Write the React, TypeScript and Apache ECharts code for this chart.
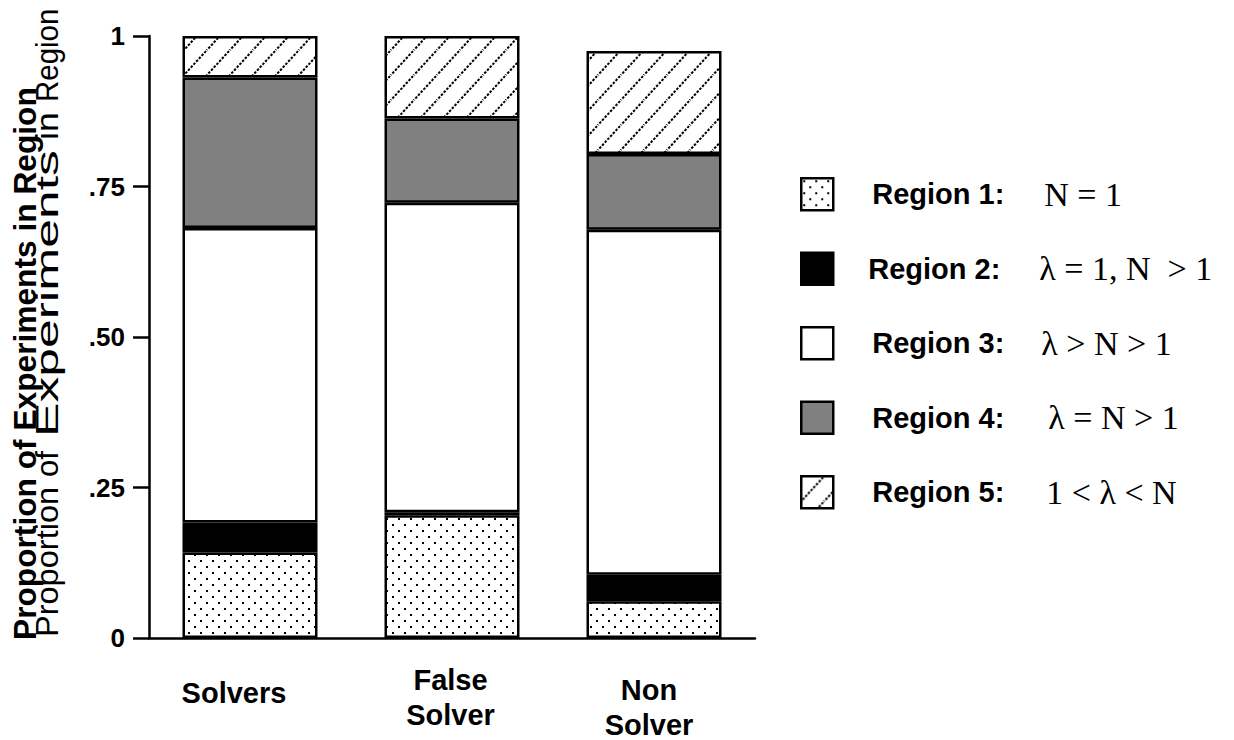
import React, { useEffect, useRef } from 'react';
import * as echarts from 'echarts';

// Subject groups along the x axis
const groups = ['Solvers', 'False\nSolver', 'Non\nSolver'];

// Share of experiments falling in each region, per group (stacked bottom to top)
const region1 = [0.142, 0.204, 0.061];
const region2 = [0.05, 0.005, 0.044];
const region3 = [0.489, 0.514, 0.573];
const region4 = [0.25, 0.14, 0.126];
const region5 = [0.069, 0.137, 0.171];

const regionNames = ['Region 1:', 'Region 2:', 'Region 3:', 'Region 4:', 'Region 5:'];
const regionRules = ['N = 1', 'λ = 1, N  > 1', 'λ > N > 1', 'λ = N > 1', '1 < λ < N'];

const yTicks = [0, 0.25, 0.5, 0.75, 1];
const yTickLabels = ['0', '.25', '.50', '.75', '1'];

const yTitle = 'Proportion of Experiments in Region';
const yTitleWords = ['Proportion', 'of', 'Experiments', 'in', 'Region'];

const SANS = '"Liberation Sans", Arial, Helvetica, sans-serif';
const SERIF = '"Liberation Serif", "Times New Roman", serif';

function dotPattern() {
  const w = 12;
  const h = 12;
  const c = document.createElement('canvas');
  c.width = w;
  c.height = h;
  const g = c.getContext('2d')!;
  g.fillStyle = '#ffffff';
  g.fillRect(0, 0, w, h);
  g.fillStyle = '#000000';
  g.fillRect(2, 2, 2, 2);
  g.fillRect(8, 8, 2, 2);
  return { image: c, repeat: 'repeat', imageWidth: w, imageHeight: h };
}

function hatchPattern() {
  const w = 23;
  const h = 25;
  const c = document.createElement('canvas');
  c.width = w;
  c.height = h;
  const g = c.getContext('2d')!;
  g.fillStyle = '#ffffff';
  g.fillRect(0, 0, w, h);
  g.strokeStyle = '#000000';
  g.lineWidth = 2;
  g.setLineDash([2.5, 1.5]);
  for (let k = -1; k <= 1; k++) {
    g.beginPath();
    g.moveTo(k * w - w, 2 * h);
    g.lineTo(k * w + 2 * w, -h);
    g.stroke();
  }
  return { image: c, repeat: 'repeat', imageWidth: w, imageHeight: h };
}

export default function App() {
  const ref = useRef<HTMLDivElement>(null);

  useEffect(() => {
    if (!ref.current) return;
    const chart = echarts.init(ref.current, null, { renderer: 'svg' });

    const fills: any[] = [dotPattern(), '#000000', '#ffffff', '#808080', hatchPattern()];
    const values = [region1, region2, region3, region4, region5];

    // top / right padding of each category label
    const labelPads = [
      [13, 32, 0, 0],
      [0, 3, 0, 0],
      [10, 10, 0, 0],
    ];

    // legend row layout: lead-in before the region name, and width of the name column
    const legendLead = [34, 30, 34, 34, 34];
    const legendNameW = [172, 171, 169, 176, 174];
    const legendRich: Record<string, any> = {
      b: { fontFamily: SERIF, fontSize: 34, lineHeight: 32, color: '#000' },
    };
    regionNames.forEach((_, i) => {
      legendRich['p' + i] = { width: legendLead[i], fontSize: 10, lineHeight: 32 };
      legendRich['a' + i] = {
        width: legendNameW[i],
        fontFamily: SANS,
        fontWeight: 'bold',
        fontSize: 29,
        lineHeight: 32,
        color: '#000',
      };
    });

    // lower-case word row of the axis title: start (bottom) y and stretch along the text
    const wordStart = [637, 477, 437, 140, 102];
    const wordStretch = [1.05, 1, 1.666, 1.15, 0.95];
    const wordTexts = yTitleWords.map((word, i) => ({
      type: 'text',
      x: 47.5,
      y: wordStart[i],
      rotation: Math.PI / 2,
      scaleX: wordStretch[i],
      style: {
        text: word,
        font: `31px ${SANS}`,
        fill: '#000',
        align: 'left',
        verticalAlign: 'middle',
        textAlign: 'left',
        textVerticalAlign: 'middle',
      },
    }));

    chart.setOption({
      animation: false,
      backgroundColor: '#ffffff',
      textStyle: { fontFamily: SANS, color: '#000' },
      grid: { left: 149, top: 36, width: 606, height: 602, outerBoundsMode: 'none' },
      legend: {
        orient: 'vertical',
        left: 800,
        top: 177,
        padding: 0,
        icon: 'rect',
        itemWidth: 32,
        itemHeight: 32,
        itemGap: 40,
        selectedMode: false,
        data: regionNames,
        itemStyle: { borderColor: '#000', borderWidth: 2.5 },
        formatter: (name: string) => {
          const i = regionNames.indexOf(name);
          return `{p${i}|\u00a0}{a${i}|${name}}{b|${regionRules[i]}}`;
        },
        textStyle: { rich: legendRich },
      },
      xAxis: {
        type: 'category',
        data: groups.map((g, i) => ({ value: g, textStyle: { padding: labelPads[i] } })),
        axisLine: { lineStyle: { color: '#000', width: 2.5 } },
        axisTick: { alignWithLabel: true, length: 17, lineStyle: { color: '#000', width: 2.5 } },
        axisLabel: {
          margin: 24,
          fontFamily: SANS,
          fontWeight: 'bold',
          fontSize: 29,
          lineHeight: 35,
          color: '#000',
          interval: 0,
        },
        splitLine: { show: false },
      },
      yAxis: {
        type: 'value',
        min: 0,
        max: 1,
        interval: 0.25,
        axisLine: { show: true, lineStyle: { color: '#000', width: 2.5 } },
        axisTick: { show: true, length: 16, lineStyle: { color: '#000', width: 2.5 } },
        axisLabel: {
          margin: 24,
          fontFamily: SANS,
          fontWeight: 'bold',
          fontSize: 26,
          color: '#000',
          formatter: (v: number) => {
            const i = yTicks.findIndex((t) => Math.abs(t - v) < 1e-6);
            return i >= 0 ? yTickLabels[i] : '';
          },
        },
        splitLine: { show: false },
      },
      series: regionNames.map((name, i) => ({
        name,
        type: 'bar',
        stack: 'regions',
        barWidth: 135,
        data: values[i],
        itemStyle: { color: fills[i], borderColor: '#000', borderWidth: 2.5 },
        emphasis: { disabled: true },
      })),
      graphic: [
        {
          type: 'text',
          x: 24.5,
          y: 640,
          rotation: Math.PI / 2,
          style: {
            text: yTitle,
            font: `bold 31.7px ${SANS}`,
            fill: '#000',
            align: 'left',
            verticalAlign: 'middle',
            textAlign: 'left',
            textVerticalAlign: 'middle',
          },
        },
        ...wordTexts,
      ],
    });

    return () => chart.dispose();
  }, []);

  return (
    <div
      ref={ref}
      style={{ position: 'fixed', left: 0, top: 0, width: 1234, height: 740, background: '#fff' }}
    />
  );
}
